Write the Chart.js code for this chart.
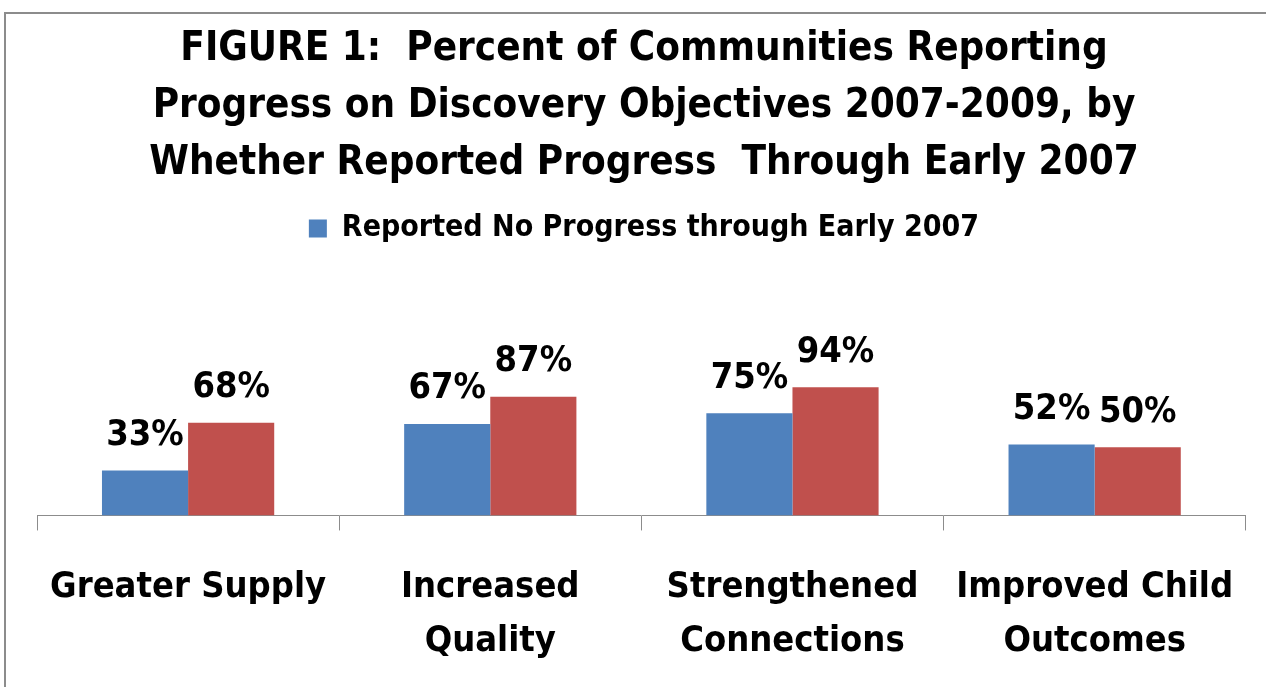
<!DOCTYPE html>
<html>
<head>
<meta charset="utf-8">
<script src="https://cdn.jsdelivr.net/npm/chart.js@4.4.1/dist/chart.umd.min.js"></script>
<style>
  html, body { margin: 0; padding: 0; background: #ffffff; overflow: hidden; }
  #wrap { position: relative; width: 1266px; height: 687px; overflow: hidden; }
  #frame { position: absolute; left: 4px; top: 12px; width: 1300px; height: 720px; border: 2px solid #8c8c8c; box-sizing: border-box; }
  #box { position: absolute; left: 0; top: 0; width: 1266px; height: 699px; }
</style>
</head>
<body>
<div id="wrap">
  <div id="frame"></div>
  <div id="box"><canvas id="c"></canvas></div>
</div>
<script>
const titleLines = [
  'FIGURE 1:  Percent of Communities Reporting',
  'Progress on Discovery Objectives 2007-2009, by',
  'Whether Reported Progress  Through Early 2007'
];
const categories = [
  ['Greater Supply'],
  ['Increased', 'Quality'],
  ['Strengthened', 'Connections'],
  ['Improved Child', 'Outcomes']
];
const seriesNames = ['Reported No Progress through Early 2007', 'Reported Progress through Early 2007'];
const noProgress = [33, 67, 75, 52];
const progress = [68, 87, 94, 50];

const FONT = '"Liberation Sans Narrow", "DejaVu Sans Condensed", Carlito, sans-serif';

const valueLabels = {
  id: 'valueLabels',
  afterDatasetsDraw(chart) {
    const ctx = chart.ctx;
    ctx.save();
    ctx.font = 'bold 36px ' + FONT;
    ctx.fillStyle = '#000';
    ctx.textAlign = 'center';
    ctx.textBaseline = 'middle';
    chart.data.datasets.forEach((ds, i) => {
      chart.getDatasetMeta(i).data.forEach((bar, j) => {
        ctx.fillText(ds.data[j] + '%', bar.x, bar.y - 35);
      });
    });
    ctx.restore();
  }
};

new Chart(document.getElementById('c'), {
  type: 'bar',
  data: {
    labels: categories,
    datasets: [
      { label: seriesNames[0], data: noProgress, backgroundColor: '#4F81BD', borderWidth: 0 },
      { label: seriesNames[1], data: progress, backgroundColor: '#C0504D', borderWidth: 0 }
    ]
  },
  options: {
    responsive: true,
    maintainAspectRatio: false,
    animation: false,
    layout: { padding: { left: 37, right: 15, top: 0, bottom: 0 } },
    categoryPercentage: 0.57,
    barPercentage: 1.0,
    plugins: {
      title: {
        display: true,
        text: titleLines,
        color: '#000',
        font: { family: FONT, size: 40, weight: 'bold', lineHeight: 1.43 },
        padding: { top: 21, bottom: 11 }
      },
      legend: {
        display: true,
        labels: {
          filter: (item) => item.datasetIndex === 0,
          color: '#000',
          boxWidth: 18,
          boxHeight: 18,
          font: { family: FONT, size: 30, weight: 'bold' },
          padding: 10
        }
      },
      tooltip: { enabled: false }
    },
    scales: {
      x: {
        grid: { display: true, drawOnChartArea: false, drawTicks: true, tickLength: 15, color: '#8c8c8c', offset: true },
        border: { display: true, color: '#8c8c8c', width: 1 },
        ticks: {
          color: '#000',
          font: { family: FONT, size: 36, weight: 'bold', lineHeight: 1.48 },
          padding: 31,
          maxRotation: 0,
          autoSkip: false
        }
      },
      y: {
        display: false,
        min: 0,
        max: 192
      }
    }
  },
  plugins: [valueLabels]
});
</script>
</body>
</html>
